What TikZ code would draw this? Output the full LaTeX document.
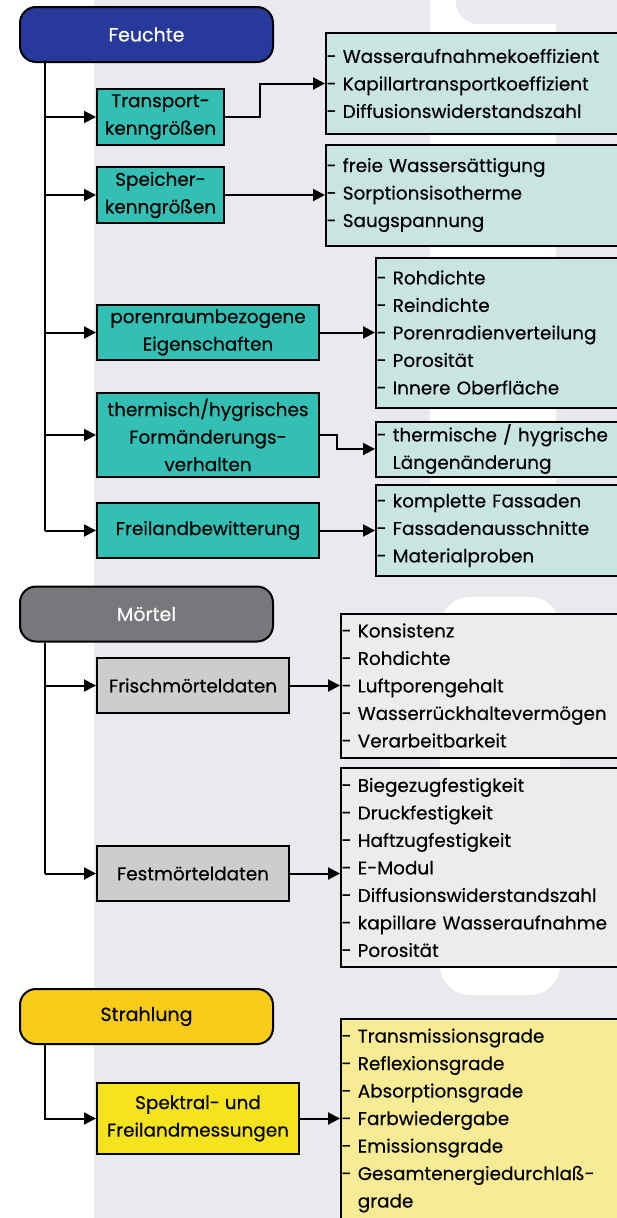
\documentclass[tikz,border=0pt]{standalone}
\usepackage{fontspec}
\setmainfont{Poppins}[FakeBold=0.35]
\usepackage{tikz}
\usetikzlibrary{arrows.meta, positioning}
\definecolor{hintergrund}{HTML}{EAEAEE}
\definecolor{feuchteblau}{HTML}{27399A}
\definecolor{tuerkis}{HTML}{34BFB4}
\definecolor{tuerkishell}{HTML}{C9E5E1}
\definecolor{moertelgrau}{HTML}{77787B}
\definecolor{grau}{HTML}{CDCDCD}
\definecolor{grauhell}{HTML}{ECECEF}
\definecolor{strahlgelb}{HTML}{F9CC1A}
\definecolor{gelb}{HTML}{F5E31E}
\definecolor{gelbhell}{HTML}{F8EB95}
\tikzset{
>={Triangle[length=12pt,width=12pt]}, % filled arrow heads
every node/.style={inner sep=0pt, font=\fontsize{18.4}{27.5}\selectfont},
head/.style={draw, line width=2pt, rounded corners=16pt, minimum width=253pt, minimum height=55pt, font=\fontsize{19}{27.5}\selectfont},
sub/.style={draw, line width=2pt, align=center, anchor=west},
list/.style={draw, line width=2pt, align=left, text width=300pt, inner xsep=0.5pt},
link/.style={line width=2pt},
}

\begin{document}
\begin{tikzpicture}[x=1pt, y=-1pt]
  \useasboundingbox (0,0) rectangle (617,1218);
  \clip (0,0) rectangle (617,1218);
  \fill[hintergrund] (94,0) rectangle (617,1218);
  % watermark
  \fill[white] (430,0) rectangle (556,577);
  \fill[hintergrund, rounded corners=22pt] (456,-30) rectangle (580,24);
  \fill[white, rounded corners=30pt] (440,597) rectangle (560,995);

  % Feuchte
  \node[head, fill=feuchteblau, text=white] (feuchte) at (146.5,34.5) {Feuchte};
  \node[sub, fill=tuerkis, minimum width=127pt, minimum height=56pt] (transport) at (96,117) {Transport-\\kenngrößen};
  \node[sub, fill=tuerkis, minimum width=127pt, minimum height=56pt] (speicher) at (96,195) {Speicher-\\kenngrößen};
  \node[sub, fill=tuerkis, minimum width=222pt, minimum height=55pt] (poren) at (96,332.5) {porenraumbezogene\\Eigenschaften};
  \node[sub, fill=tuerkis, minimum width=222pt, minimum height=84pt] (thermo) at (96,435) {thermisch/hygrisches\\Formänderungs-\\verhalten};
  \node[sub, fill=tuerkis, minimum width=222pt, minimum height=55pt] (freiland) at (96,530.5) {Freilandbewitterung};

  \node[list, fill=tuerkishell, minimum height=101pt, right=100pt of transport, yshift=33.5pt] (kennwerte)
    {- Wasseraufnahmekoeffizient\\- Kapillartransportkoeffizient\\- Diffusionswiderstandszahl};
  \node[list, fill=tuerkishell, minimum height=101pt, right=100pt of speicher] (speicherwerte)
    {- freie Wassersättigung\\- Sorptionsisotherme\\- Saugspannung};
  \node[list, fill=tuerkishell, minimum height=150pt, right=55pt of poren] (porenwerte)
    {- Rohdichte\\- Reindichte\\- Porenradienverteilung\\- Porosität\\- Innere Oberfläche};
  \node[list, fill=tuerkishell, minimum height=55pt, right=55pt of thermo, yshift=-14pt] (laenge)
    {- thermische / hygrische\\\hphantom{- }Längenänderung};
  \node[list, fill=tuerkishell, minimum height=91pt, right=55pt of freiland] (proben)
    {- komplette Fassaden\\- Fassadenausschnitte\\- Materialproben};

  \draw[link] (feuchte.south west) ++(26,0) coordinate (fstamm) -- (fstamm |- freiland.west);
  \foreach \n in {transport, speicher, poren, thermo, freiland}
    \draw[link, ->] (fstamm |- \n.west) -- (\n.west);
  \draw[link, ->] (transport.east) -- ++(35,0) |- (kennwerte.west);
  \draw[link, ->] (speicher.east) -- (speicher.east -| speicherwerte.west);
  \draw[link, ->] (poren.east) -- (poren.east -| porenwerte.west);
  \draw[link, ->] (thermo.east) -- ++(17,0) |- (laenge.west);
  \draw[link, ->] (freiland.east) -- (freiland.east -| proben.west);

  % Moertel
  \node[head, fill=moertelgrau, text=white] (moertel) at (146.5,614) {Mörtel};
  \node[sub, fill=grau, minimum width=192pt, minimum height=55pt] (frisch) at (96,685.5) {Frischmörteldaten};
  \node[sub, fill=grau, minimum width=192pt, minimum height=55pt] (fest) at (96,873.5) {Festmörteldaten};

  \node[list, fill=grauhell, minimum height=144pt, right=50pt of frisch] (frischwerte)
    {- Konsistenz\\- Rohdichte\\- Luftporengehalt\\- Wasserrückhaltevermögen\\- Verarbeitbarkeit};
  \node[list, fill=grauhell, minimum height=199pt, right=50pt of fest, yshift=6pt] (festwerte)
    {- Biegezugfestigkeit\\- Druckfestigkeit\\- Haftzugfestigkeit\\- E-Modul\\- Diffusionswiderstandszahl\\- kapillare Wasseraufnahme\\- Porosität};

  \draw[link] (moertel.south west) ++(26,0) coordinate (mstamm) -- (mstamm |- fest.west);
  \foreach \n in {frisch, fest}
    \draw[link, ->] (mstamm |- \n.west) -- (\n.west);
  \draw[link, ->] (frisch.east) -- (frisch.east -| frischwerte.west);
  \draw[link, ->] (fest.east) -- (fest.east -| festwerte.west);

  % Strahlung
  \node[head, fill=strahlgelb] (strahlung) at (146.5,1016.5) {Strahlung};
  \node[sub, fill=gelb, minimum width=202pt, minimum height=71pt] (spektral) at (96,1118.5) {Spektral- und\\Freilandmessungen};
  \node[list, fill=gelbhell, minimum height=204pt, right=40pt of spektral, yshift=-2pt] (grade)
    {- Transmissionsgrade\\- Reflexionsgrade\\- Absorptionsgrade\\- Farbwiedergabe\\- Emissionsgrade\\- Gesamtenergiedurchlaß-\\\hphantom{- }grade};

  \draw[link, ->] (strahlung.south west) ++(26,0) |- (spektral.west);
  \draw[link, ->] (spektral.east) -- (spektral.east -| grade.west);
\end{tikzpicture}
\end{document}
